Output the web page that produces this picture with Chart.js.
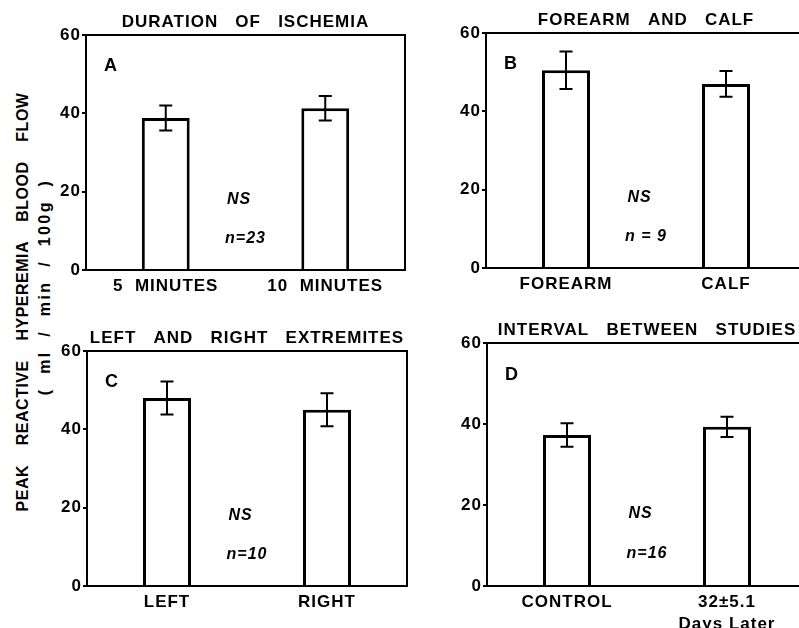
<!DOCTYPE html>
<html>
<head>
<meta charset="utf-8">
<script src="https://cdn.jsdelivr.net/npm/chart.js@4.4.1/dist/chart.umd.min.js"></script>
<style>
  body { margin: 0; width: 799px; height: 628px; overflow: hidden; position: relative; background: #fff;
         font-family: "Liberation Sans", Arial, sans-serif; color: #000; }
  canvas { position: absolute; }
  .ytitle { position: absolute; white-space: pre; font-size: 16px; font-weight: bold; letter-spacing: 0.5px;
            transform: translate(-50%, -50%) rotate(-90deg); }
</style>
</head>
<body>
<div class="ytitle" style="left:23px;top:302px">PEAK    REACTIVE    HYPEREMIA    BLOOD    FLOW</div>
<div class="ytitle" style="left:45px;top:287px;letter-spacing:2.4px">(  ml  /  min  /  100g  )</div>
<canvas id="panelA" width="369" height="313" style="left:40px;top:2px"></canvas>
<canvas id="panelB" width="370" height="313" style="left:440px;top:0px"></canvas>
<canvas id="panelC" width="370" height="310" style="left:41px;top:318px"></canvas>
<canvas id="panelD" width="370" height="318" style="left:441px;top:310px"></canvas>
<script>
// peak reactive hyperemia blood flow, mean and SE (ml/min/100g)
const labelsA = ['5  MINUTES', '10  MINUTES'];
const meansA = [38.8, 41.3];
const errA = [3.2, 3.1];

const labelsB = ['FOREARM', 'CALF'];
const meansB = [50.5, 47];
const errB = [4.8, 3.3];

const labelsC = ['LEFT', 'RIGHT'];
const meansC = [48, 45];
const errC = [4.2, 4.2];

const labelsD = ['CONTROL', ['32±5.1', 'Days Later']];
const meansD = [37.3, 39.3];
const errD = [2.9, 2.5];

const yTicks = [0, 20, 40, 60];

const FONT = '"Liberation Sans", Arial, sans-serif';

const spacing = {
  id: 'spacing',
  beforeDraw(chart) { chart.ctx.letterSpacing = '1px'; }
};

// top and right sides of the box
const frame = {
  id: 'frame',
  afterDraw(chart) {
    const { ctx, chartArea: a } = chart;
    ctx.save();
    ctx.strokeStyle = '#000';
    ctx.lineWidth = 2;
    ctx.beginPath();
    ctx.moveTo(a.left, a.top);
    ctx.lineTo(a.right, a.top);
    ctx.lineTo(a.right, a.bottom);
    ctx.stroke();
    ctx.restore();
  }
};

const errorBars = {
  id: 'errorBars',
  afterDatasetsDraw(chart) {
    const { ctx, scales: { y } } = chart;
    const ds = chart.data.datasets[0];
    ctx.save();
    ctx.strokeStyle = '#000';
    ctx.lineWidth = 2;
    chart.getDatasetMeta(0).data.forEach((bar, i) => {
      const top = y.getPixelForValue(ds.data[i] + ds.errors[i]);
      const bot = y.getPixelForValue(ds.data[i] - ds.errors[i]);
      ctx.beginPath();
      ctx.moveTo(bar.x, top); ctx.lineTo(bar.x, bot);
      ctx.moveTo(bar.x - 6.5, top); ctx.lineTo(bar.x + 6.5, top);
      ctx.moveTo(bar.x - 6.5, bot); ctx.lineTo(bar.x + 6.5, bot);
      ctx.stroke();
    });
    ctx.restore();
  }
};

// panel letter, NS and n
const panelText = {
  id: 'panelText',
  afterDraw(chart, args, opts) {
    const { ctx, chartArea: a, scales: { x, y } } = chart;
    ctx.save();
    ctx.fillStyle = '#000';
    ctx.textAlign = 'center';
    ctx.textBaseline = 'middle';
    ctx.font = 'bold 18px ' + FONT;
    ctx.fillText(opts.letter, a.left + 25, y.getPixelForValue(52));
    ctx.font = 'italic bold 16px ' + FONT;
    ctx.fillText('NS', x.getPixelForValue(0.46), y.getPixelForValue(18));
    ctx.fillText(opts.note, x.getPixelForValue(0.5), y.getPixelForValue(8));
    ctx.restore();
  }
};

function panel(id, title, labels, means, errs, letter, note, xHeight) {
  return new Chart(document.getElementById(id), {
    type: 'bar',
    data: {
      labels: labels,
      datasets: [{
        data: means,
        errors: errs,
        backgroundColor: '#fff',
        borderColor: '#000',
        borderWidth: 3,
        borderSkipped: 'bottom',
        categoryPercentage: 1,
        barPercentage: 0.3
      }]
    },
    options: {
      responsive: false,
      animation: false,
      events: [],
      layout: { padding: { right: 4 } },
      plugins: {
        legend: { display: false },
        tooltip: { enabled: false },
        title: {
          display: true,
          text: title,
          color: '#000',
          fullSize: false,
          font: { family: FONT, size: 17, weight: 'bold', lineHeight: 1.2 },
          padding: { top: 10, bottom: 2.6 }
        },
        panelText: { letter: letter, note: note }
      },
      scales: {
        x: {
          grid: { display: false, drawTicks: false },
          border: { display: true, color: '#000', width: 2 },
          ticks: { color: '#000', font: { family: FONT, size: 17, weight: 'bold', lineHeight: 1.3 }, padding: 5, maxRotation: 0, autoSkip: false },
          afterFit(s) { s.height = xHeight; }
        },
        y: {
          min: 0,
          max: 60,
          afterBuildTicks(s) { s.ticks = yTicks.map(v => ({ value: v })); },
          ticks: { color: '#000', font: { family: FONT, size: 17, weight: 'bold' }, padding: 1 },
          grid: { drawOnChartArea: false, tickLength: 4, color: '#000', lineWidth: 2 },
          border: { display: true, color: '#000', width: 2 },
          afterFit(s) { s.width = 46; }
        }
      }
    },
    plugins: [spacing, frame, errorBars, panelText]
  });
}

panel('panelA', 'DURATION   OF   ISCHEMIA', labelsA, meansA, errA, 'A', 'n=23', 45);
panel('panelB', 'FOREARM   AND   CALF', labelsB, meansB, errB, 'B', 'n = 9', 45);
panel('panelC', 'LEFT   AND   RIGHT   EXTREMITES', labelsC, meansC, errC, 'C', 'n=10', 42);
panel('panelD', 'INTERVAL   BETWEEN   STUDIES', labelsD, meansD, errD, 'D', 'n=16', 42);
</script>
</body>
</html>
